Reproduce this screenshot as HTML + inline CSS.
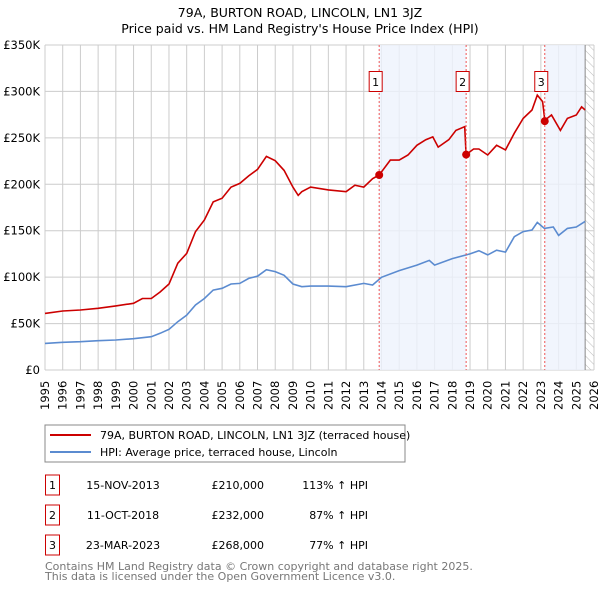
<!DOCTYPE html>
<html><head><meta charset="utf-8"><style>
body{margin:0;background:#fff;font-family:"DejaVu Sans","Liberation Sans",sans-serif;}
svg text{font-family:"DejaVu Sans","Liberation Sans",sans-serif;}
</style></head><body>
<svg id="chart" width="600" height="590" viewBox="0 0 600 590" xmlns="http://www.w3.org/2000/svg">
<defs><pattern id="hatch" width="6" height="6" patternUnits="userSpaceOnUse" patternTransform="rotate(-45)"><line x1="0" y1="0" x2="0" y2="6" stroke="#bbb" stroke-width="1"/></pattern></defs>
<text x="300" y="17" text-anchor="middle" font-size="12.5">79A, BURTON ROAD, LINCOLN, LN1 3JZ</text>
<text x="300" y="33" text-anchor="middle" font-size="12.5">Price paid vs. HM Land Registry's House Price Index (HPI)</text>
<g id="grid"></g><g id="shade"></g><g id="axes"></g><g id="lines"></g><g id="marks"></g>
<g>
<rect x="45" y="425" width="360" height="37" fill="#fff" stroke="#888"/>
<line x1="50" y1="435" x2="91" y2="435" stroke="#cc0000" stroke-width="2"/>
<text x="100" y="439" font-size="11">79A, BURTON ROAD, LINCOLN, LN1 3JZ (terraced house)</text>
<line x1="50" y1="452" x2="91" y2="452" stroke="#5b8bd0" stroke-width="2"/>
<text x="100" y="456" font-size="11">HPI: Average price, terraced house, Lincoln</text>
</g>
<g id="table" font-size="11"></g>
<text x="45" y="570" font-size="11" fill="#777">Contains HM Land Registry data © Crown copyright and database right 2025.</text>
<text x="45" y="580" font-size="11" fill="#777">This data is licensed under the Open Government Licence v3.0.</text>
</svg>
<script>
const hpiYears=[1995,1996,1997,1998,1999,2000,2001,2001.5,2002,2002.5,2003,2003.5,2004,2004.5,2005,2005.5,2006,2006.5,2007,2007.5,2008,2008.5,2009,2009.5,2010,2011,2012,2013,2013.5,2014,2015,2016,2016.7,2017,2018,2019,2019.5,2020,2020.5,2021,2021.5,2022,2022.5,2022.8,2023.2,2023.7,2024,2024.5,2025,2025.5];
const hpiValues=[28.7,29.8,30.5,31.6,32.3,33.7,35.9,39.5,43.8,52,59,70,77,86,88,92.6,93.3,98.7,101,108,106,102,92.6,89.7,90.4,90.4,89.7,93.3,91.5,99.8,107,113,118,113,120,125,128.5,124,129,127,143.6,149,150.8,159,152.5,154,145,152.5,154,160];
const priceYears=[1995,1996,1997,1998,1999,2000,2000.5,2001,2001.5,2002,2002.5,2003,2003.5,2004,2004.5,2005,2005.5,2006,2006.5,2007,2007.5,2008,2008.5,2009,2009.3,2009.5,2010,2011,2012,2012.5,2013,2013.5,2013.87,2014.5,2015,2015.5,2016,2016.5,2016.9,2017.2,2017.8,2018.2,2018.7,2018.78,2019.2,2019.5,2020,2020.5,2021,2021.5,2022,2022.5,2022.8,2023.1,2023.22,2023.6,2024.1,2024.5,2025,2025.3,2025.5];
const priceValues=[61,63.5,64.6,66.4,69,71.8,77,77,84,92.6,115,125.6,149,161.5,181,185,197,201,209,216,230,225.4,215,197,188,192,197,194,192,199,197,206,210,226,226,231.5,242,248,251,240,248,258,262,232,238,238,231.5,242,237,255,271,280,296,289,269,274.6,258,271,274.6,283.5,280];
const saleYears=[2013.87,2018.78,2023.22];
const saleValues=[210,232,268];
const saleDates=["15-NOV-2013","11-OCT-2018","23-MAR-2023"];
const salePrices=["£210,000","£232,000","£268,000"];
const salePct=["113% ↑ HPI","87% ↑ HPI","77% ↑ HPI"];
const yTicks=[0,50,100,150,200,250,300,350];
const yLabels=["£0","£50K","£100K","£150K","£200K","£250K","£300K","£350K"];
const xTicks=[1995,1996,1997,1998,1999,2000,2001,2002,2003,2004,2005,2006,2007,2008,2009,2010,2011,2012,2013,2014,2015,2016,2017,2018,2019,2020,2021,2022,2023,2024,2025,2026];

const NS="http://www.w3.org/2000/svg";
const X0=45,X1=594,Y0=370,Y1=45;
const xs=y=>X0+(y-1995)/(2026-1995)*(X1-X0);
const ys=v=>Y0-v/350*(Y0-Y1);
function mk(tag,attrs,parent){const e=document.createElementNS(NS,tag);for(const k in attrs)e.setAttribute(k,attrs[k]);document.getElementById(parent).appendChild(e);return e;}
const shadeAreas=[[saleYears[0],saleYears[1]],[saleYears[2],2025.5]];
shadeAreas.forEach((s,i)=>{const r=mk('rect',{x:xs(s[0]),y:Y1,width:xs(s[1])-xs(s[0]),height:Y0-Y1,fill:'#eef3fc',opacity:0.8},'shade');

});
const h=mk('rect',{x:xs(2025.5),y:Y1,width:X1-xs(2025.5),height:Y0-Y1,fill:'url(#hatch)'},'shade');


mk('line',{x1:xs(2025.5),y1:Y1,x2:xs(2025.5),y2:Y0,stroke:'#888'},'shade');
yTicks.forEach((t,i)=>{const l=mk('line',{x1:X0,x2:X1,y1:ys(t),y2:ys(t),stroke:'#ccc'},'grid');


const tx=mk('text',{x:40,y:ys(t)+4,'text-anchor':'end','font-size':11.5},'axes');tx.textContent=yLabels[i];

});
xTicks.forEach(t=>{const l=mk('line',{x1:xs(t),x2:xs(t),y1:Y1,y2:Y0,stroke:'#ccc'},'grid');


const tx=mk('text',{x:0,y:0,transform:`translate(${xs(t)+4},${Y0+40}) rotate(-90)`,'font-size':11.5},'axes');tx.textContent=t;

});
function path(xsArr,vs,color,name){const d=xsArr.map((y,i)=>(i?'L':'M')+xs(y).toFixed(1)+','+ys(vs[i]).toFixed(1)).join('');
const p=mk('path',{d:d,fill:'none',stroke:color,'stroke-width':1.6},'lines');

}
path(hpiYears,hpiValues,'#5b8bd0','hpi-line');
path(priceYears,priceValues,'#cc0000','price-line');
saleYears.forEach((y,i)=>{
mk('line',{x1:xs(y),x2:xs(y),y1:Y1,y2:Y0,stroke:'#e55','stroke-dasharray':'2,2'},'marks');
const b=mk('rect',{x:xs(y)-10,y:71.5,width:13,height:20,fill:'#fff',stroke:'#cc0000'},'marks');


const t=mk('text',{x:xs(y)-3.5,y:86,'text-anchor':'middle','font-size':11},'marks');t.textContent=i+1;
const c=mk('circle',{cx:xs(y),cy:ys(saleValues[i]),r:4,fill:'#cc0000'},'marks');


const ry=475+i*30;
const rb=mk('rect',{x:45.5,y:ry,width:14,height:20,fill:'#fff',stroke:'#cc0000'},'table');


const n=mk('text',{x:52.5,y:ry+14,'text-anchor':'middle'},'table');n.textContent=i+1;
const d=mk('text',{x:123,y:ry+14,'text-anchor':'middle'},'table');d.textContent=saleDates[i];


const pr=mk('text',{x:264,y:ry+14,'text-anchor':'end'},'table');pr.textContent=salePrices[i];


const pc=mk('text',{x:368,y:ry+14,'text-anchor':'end'},'table');pc.textContent=salePct[i];


});
</script>
</body></html>
